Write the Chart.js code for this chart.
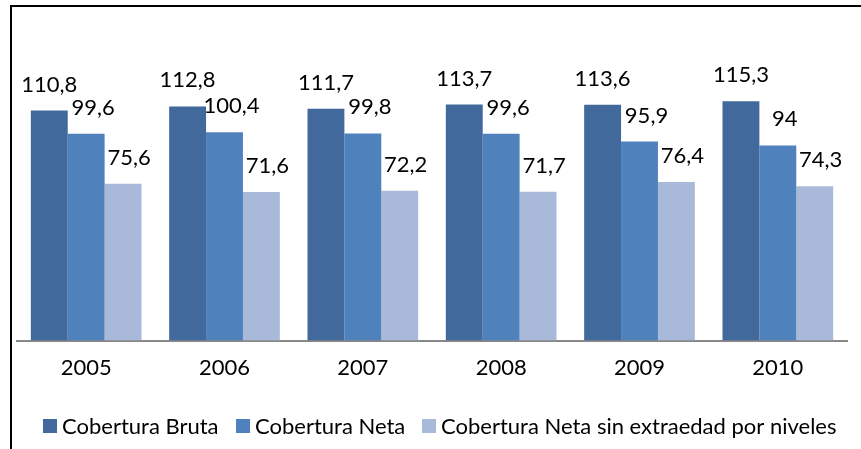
<!DOCTYPE html>
<html>
<head>
<meta charset="utf-8">
<script src="https://cdn.jsdelivr.net/npm/chart.js@4"></script>
<style>
html,body{margin:0;padding:0;background:#fff;}
#wrap{position:relative;width:861px;height:449px;}
</style>
</head>
<body>
<div id="wrap"><canvas id="c" width="861" height="449"></canvas></div>
<script>
const categories = ['2005', '2006', '2007', '2008', '2009', '2010'];
const seriesNames = ['Cobertura Bruta', 'Cobertura Neta', 'Cobertura Neta sin extraedad por niveles'];
const coberturaBruta = [110.8, 112.8, 111.7, 113.7, 113.6, 115.3];
const coberturaNeta = [99.6, 100.4, 99.8, 99.6, 95.9, 94];
const coberturaNetaSinExtraedad = [75.6, 71.6, 72.2, 71.7, 76.4, 74.3];
const colors = ['#41699C', '#4F81BD', '#A9B9D9'];
const FONT = 'Lato, "Open Sans", sans-serif';

const fmt = v => String(v).replace('.', ',');

const framePlugin = {
  id: 'frame',
  beforeDraw(chart) {
    const ctx = chart.ctx;
    ctx.save();
    ctx.fillStyle = '#fff';
    ctx.fillRect(0, 0, chart.width, chart.height);
    ctx.strokeStyle = '#000';
    ctx.lineWidth = 2;
    ctx.beginPath();
    ctx.moveTo(11, chart.height + 5);
    ctx.lineTo(11, 6);
    ctx.lineTo(chart.width + 5, 6);
    ctx.stroke();
    ctx.restore();
  }
};

const labelPlugin = {
  id: 'valueLabels',
  afterDatasetsDraw(chart) {
    const ctx = chart.ctx;
    ctx.save();
    ctx.font = '22px ' + FONT;
    ctx.fillStyle = '#000';
    ctx.textAlign = 'center';
    ctx.textBaseline = 'alphabetic';
    const xShift = [0, 7, 6];
    chart.data.datasets.forEach((ds, i) => {
      const meta = chart.getDatasetMeta(i);
      meta.data.forEach((bar, j) => {
        ctx.fillText(fmt(ds.data[j]), bar.x + xShift[i], bar.y - 19);
      });
    });
    ctx.restore();
  }
};

const legendPlugin = {
  id: 'customLegend',
  afterDraw(chart) {
    const ctx = chart.ctx;
    ctx.save();
    ctx.font = '22px ' + FONT;
    ctx.textBaseline = 'middle';
    ctx.textAlign = 'left';
    const boxXs = [43, 236, 422];
    const y = 426;
    chart.data.datasets.forEach((ds, i) => {
      ctx.fillStyle = colors[i];
      ctx.fillRect(boxXs[i], y - 7, 14, 14);
      ctx.fillStyle = '#000';
      ctx.fillText(ds.label, boxXs[i] + 19, y + 1);
    });
    ctx.restore();
  }
};

new Chart(document.getElementById('c'), {
  type: 'bar',
  data: {
    labels: categories,
    datasets: [
      { label: seriesNames[0], data: coberturaBruta, backgroundColor: colors[0] },
      { label: seriesNames[1], data: coberturaNeta, backgroundColor: colors[1] },
      { label: seriesNames[2], data: coberturaNetaSinExtraedad, backgroundColor: colors[2] }
    ]
  },
  options: {
    responsive: false,
    animation: false,
    devicePixelRatio: 1,
    layout: { padding: { left: 17, right: 14, top: 50, bottom: 54 } },
    datasets: { bar: { categoryPercentage: 0.8, barPercentage: 1.0, borderWidth: 0 } },
    plugins: { legend: { display: false }, tooltip: { enabled: false } },
    scales: {
      x: {
        grid: { display: false, drawTicks: false },
        border: { display: true, color: '#888888', width: 2 },
        ticks: { color: '#000', font: { family: FONT, size: 22 }, padding: 14 }
      },
      y: {
        display: false,
        min: 0,
        max: 140
      }
    }
  },
  plugins: [framePlugin, labelPlugin, legendPlugin]
});
</script>
</body>
</html>
